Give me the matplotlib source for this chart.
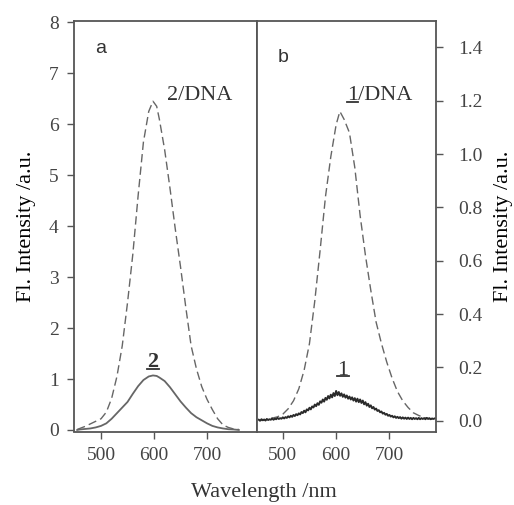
import matplotlib
matplotlib.use("Agg")
import matplotlib.pyplot as plt
from matplotlib.lines import Line2D

# Panel a: complex 2 free and bound to DNA
wl_a = [455, 460, 470, 480, 490, 500, 510, 520, 530, 540, 550, 560, 570, 580,
        590, 598, 605, 610, 620, 630, 640, 650, 660, 670, 680, 690, 700, 710,
        720, 730, 740, 750, 760]
int_2_dna = [0.01, 0.03, 0.07, 0.12, 0.17, 0.22, 0.35, 0.62, 1.05, 1.65, 2.5,
             3.45, 4.6, 5.65, 6.25, 6.45, 6.35, 6.1, 5.5, 4.75, 3.95, 3.2, 2.4,
             1.65, 1.2, 0.85, 0.6, 0.4, 0.22, 0.1, 0.05, 0.02, 0.01]
int_2 = [0.0, 0.01, 0.02, 0.03, 0.05, 0.08, 0.13, 0.22, 0.33, 0.44, 0.55, 0.71,
         0.86, 0.98, 1.05, 1.07, 1.06, 1.03, 0.96, 0.84, 0.7, 0.56, 0.44, 0.33,
         0.25, 0.19, 0.13, 0.08, 0.05, 0.03, 0.015, 0.01, 0.0]

# Panel b: complex 1 bound to DNA
wl_b_dna = [455, 470, 480, 490, 500, 510, 520, 530, 540, 550, 560, 570, 580,
            590, 600, 607, 615, 625, 635, 645, 655, 665, 675, 685, 695, 705,
            715, 725, 735, 745, 755, 765, 775, 785]
int_1_dna = [0.0, 0.005, 0.01, 0.015, 0.025, 0.045, 0.075, 0.12, 0.19, 0.29,
             0.45, 0.64, 0.84, 0.99, 1.11, 1.16, 1.13, 1.08, 0.95, 0.77, 0.62,
             0.49, 0.37, 0.29, 0.22, 0.16, 0.11, 0.075, 0.05, 0.03, 0.02,
             0.012, 0.008, 0.005]

# Panel b: free complex 1 (weak, noisy emission), sampled every 2.5 nm
wl_b = [455 + 2.5 * i for i in range(133)]
int_1 = [0.004, 0.001, 0.006, 0.002, 0.005, 0.001, 0.007, 0.003, 0.006, 0.004,
         0.009, 0.004, 0.008, 0.006, 0.011, 0.007, 0.010, 0.008, 0.013, 0.009,
         0.014, 0.011, 0.017, 0.013, 0.019, 0.015, 0.022, 0.018, 0.025, 0.021,
         0.028, 0.024, 0.033, 0.029, 0.038, 0.032, 0.043, 0.039, 0.049, 0.043,
         0.054, 0.050, 0.061, 0.055, 0.066, 0.060, 0.073, 0.068, 0.080, 0.072,
         0.086, 0.079, 0.093, 0.084, 0.098, 0.088, 0.104, 0.093, 0.112, 0.096,
         0.108, 0.094, 0.103, 0.090, 0.099, 0.087, 0.095, 0.083, 0.091, 0.080,
         0.088, 0.076, 0.085, 0.072, 0.083, 0.070, 0.080, 0.067, 0.076, 0.062,
         0.070, 0.057, 0.064, 0.052, 0.058, 0.047, 0.052, 0.042, 0.046, 0.037,
         0.040, 0.032, 0.035, 0.027, 0.030, 0.023, 0.026, 0.019, 0.022, 0.016,
         0.019, 0.013, 0.017, 0.011, 0.015, 0.010, 0.014, 0.008, 0.013, 0.008,
         0.012, 0.007, 0.012, 0.007, 0.011, 0.006, 0.011, 0.007, 0.010, 0.006,
         0.011, 0.006, 0.010, 0.007, 0.010, 0.006, 0.011, 0.007, 0.010, 0.006,
         0.009, 0.007, 0.009]

yticks_a = [0, 1, 2, 3, 4, 5, 6, 7, 8]
yticks_b = [0.0, 0.2, 0.4, 0.6, 0.8, 1.0, 1.2, 1.4]
xticks = [500, 600, 700]

SERIF = "Liberation Serif"
SANS = "Liberation Sans"
INK = "#333333"
SPINE = "#555555"
DASH = (0, (6, 3))

plt.rcParams["font.family"] = SERIF
plt.rcParams["text.color"] = INK

fig = plt.figure(figsize=(5.14, 5.05), dpi=100)
W, H = 514, 505


def add_panel(x0, x1, y0, y1):
    return fig.add_axes([x0 / W, 1 - y1 / H, (x1 - x0) / W, (y1 - y0) / H])


ax1 = add_panel(74, 256.7, 20.7, 431.5)
ax2 = add_panel(256.7, 435.7, 20.7, 431.5)

for ax in (ax1, ax2):
    for s in ax.spines.values():
        s.set_color(SPINE)
        s.set_linewidth(1.3)
    ax.tick_params(direction="out", length=5, width=1, color=SPINE,
                   labelsize=14, labelcolor="#444444", pad=6)
    ax.set_xticks(xticks)

# panel a
ax1.plot(wl_a, int_2_dna, color="#666666", lw=1.0, linestyle=DASH)
ax1.plot(wl_a, int_2, color="#666666", lw=1.3)
ax1.set_xlim(449, 793.7)
ax1.set_ylim(-0.03, 8.03)
ax1.set_yticks(yticks_a)
ax1.tick_params(right=False, top=False)
ax1.set_ylabel("Fl. Intensity /a.u.", fontsize=16, labelpad=9)

# panel b
ax2.plot(wl_b_dna, int_1_dna, color="#666666", lw=1.0, linestyle=DASH)
ax2.plot(wl_b, int_1, color="#2a2a2a", lw=1.4)
ax2.set_xlim(451, 786.8)
ax2.set_ylim(-0.04, 1.5)
ax2.set_yticks(yticks_b)
ax2.set_yticklabels([f"{v:.1f}" for v in yticks_b])
ax2.yaxis.tick_right()
ax2.yaxis.set_label_position("right")
ax2.tick_params(axis="y", pad=11)
ax2.set_ylabel("Fl. Intensity /a.u.", fontsize=16, labelpad=8)

fig.text(264 / W, 1 - 492 / H, "Wavelength /nm", fontsize=16,
         ha="center", va="center")

ax1.text(500, 7.39, "a", family=SANS, fontsize=14, ha="center", va="baseline")
ax2.text(500, 1.346, "b", family=SANS, fontsize=14, ha="center", va="baseline")

ax1.text(624.5, 6.57, "2/DNA", fontsize=16, ha="left", va="center")

renderer = fig.canvas.get_renderer()


def underline(ax, x, y, full, first, **kw):
    """Draw text and underline its leading `first` characters."""
    t = ax.text(x, y, full, **kw)
    probe = ax.text(x, y, first, **kw)
    bb_full = t.get_window_extent(renderer)
    bb = probe.get_window_extent(renderer)
    probe.remove()
    x0 = bb_full.x0 if kw.get("ha") != "center" else bb.x0
    x1 = x0 + bb.width
    yl = bb_full.y0 + 3.5
    fig.add_artist(Line2D([x0 / W, x1 / W], [yl / H, yl / H],
                          color=INK, lw=1.3, transform=fig.transFigure))


underline(ax2, 620.4, 1.218, "1/DNA", "1", fontsize=16, ha="left", va="center")
underline(ax1, 598, 1.33, "2", "2", fontsize=16, fontweight="bold",
          ha="center", va="center")
underline(ax2, 613, 0.19, "1", "1", fontsize=16, ha="center", va="center")

fig.savefig("out.png", dpi=100)
